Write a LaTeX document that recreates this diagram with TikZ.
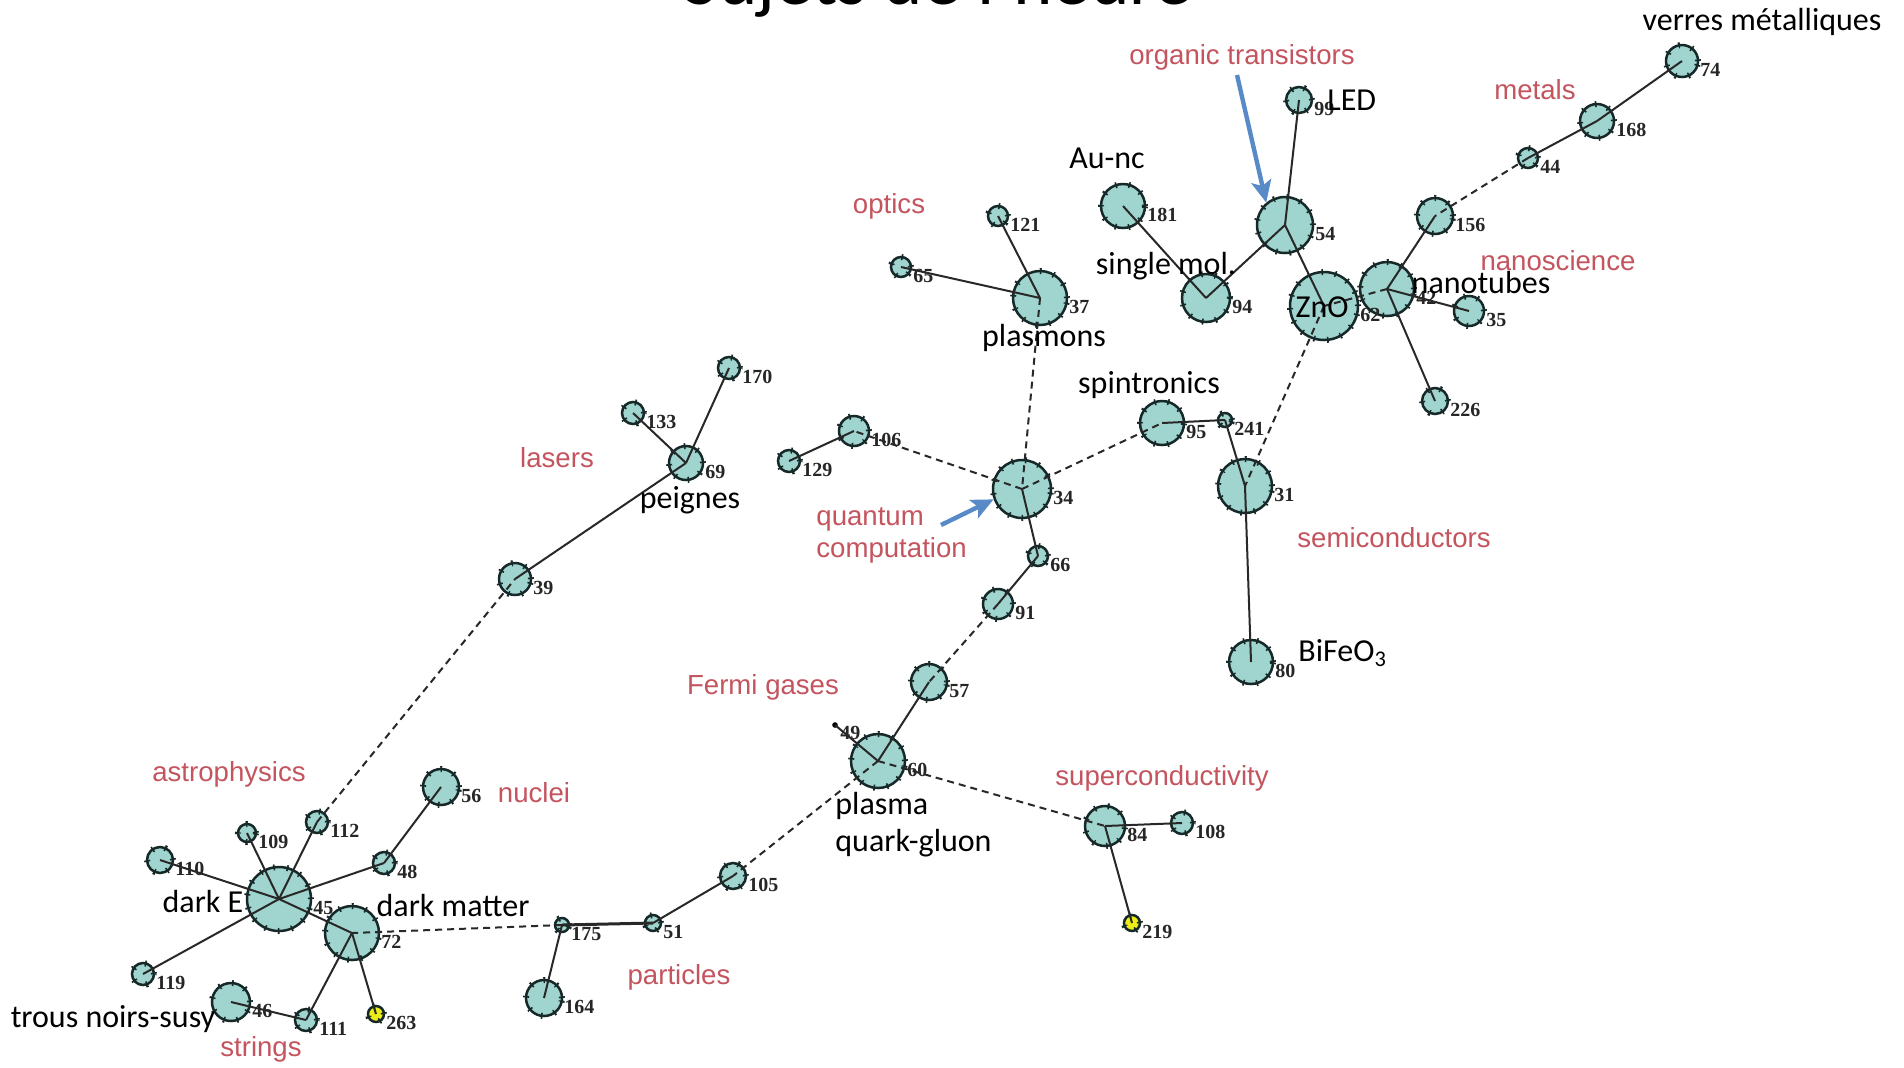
\documentclass[tikz,border=0pt]{standalone}
\usepackage{fontspec}
\setmainfont{Carlito}
\newfontfamily\catfont{Liberation Sans}
\newfontfamily\numfont{Liberation Serif}
\usetikzlibrary{arrows.meta}

\definecolor{tealc}{RGB}{160,212,206}
\definecolor{bordc}{RGB}{22,40,40}
\definecolor{yelc}{RGB}{236,236,24}
\definecolor{edgec}{RGB}{40,40,40}
\definecolor{catc}{RGB}{196,84,94}
\definecolor{arrc}{RGB}{88,138,200}

\tikzset{
  gn/.style={circle, draw=bordc, line width=1.25pt, fill=tealc, inner sep=0pt,
    postaction={draw=bordc, line width=3pt, dash pattern=on 0.8pt off 6pt}},
  yn/.style={gn, fill=yelc},
  num/.style={anchor=west, inner sep=0pt, font=\numfont\bfseries\fontsize{10pt}{11pt}\selectfont, text=black!85},
  cat/.style={inner sep=0pt, text=catc, font=\catfont\fontsize{13.8pt}{16pt}\selectfont},
  blk/.style={inner sep=0pt, text=black, font=\fontsize{16pt}{18.5pt}\selectfont},
  edge/.style={draw=edgec, line width=1pt},
  dedge/.style={edge, dash pattern=on 3.5pt off 2.5pt},
  blarrow/.style={draw=arrc, line width=2.2pt, -{Stealth[length=11pt, width=10pt, inset=2.5pt]}}
}

\begin{document}
\begin{tikzpicture}[x=0.5pt, y=-0.5pt]
\useasboundingbox (0,0) rectangle (1904,1067);
\fill[white] (0,0) rectangle (1904,1067);

% title, cut by the top edge
\begin{scope}
\clip (0,0) rectangle (1904,1067);
\node[anchor=base, inner sep=0pt, font=\fontsize{37.5pt}{40pt}\selectfont] (title) at (938,4) {Sujets de l’heure};
\end{scope}

% topic nodes: name / x / y / radius
\foreach \n/\x/\y/\r in {
  74/1682/61/16, 168/1597/121/17, 44/1528/158/10, 156/1435/216/18,
  42/1387/289/27, 35/1469/311/15, 226/1435/401/13, 62/1324/306/34,
  54/1285/225/28, 99/1299/100/13, 181/1123/206/22, 94/1206/298/24,
  37/1040/298/27, 121/998/216/10, 65/901/267/10, 34/1022/489/29,
  106/854/431/15, 129/789/461/11, 95/1162/423/22, 241/1225/420/7,
  31/1245/486/27, 80/1251/662/22, 66/1038/556/10, 91/998/604/15,
  57/929/682/18, 60/878/761/27, 84/1105/826/20, 108/1182/823/11,
  105/733/876/13, 51/653/923/8, 175/562/925/7, 164/544/998/18,
  72/352/933/27, 45/279/899/32, 48/384/863/11, 56/441/787/18,
  112/317/822/11, 109/247/833/9, 110/160/860/13, 119/143/974/11,
  46/231/1002/19, 111/306/1020/11, 39/515/579/16, 69/686/463/17,
  133/633/413/11, 170/729/368/11}
{
  \node[gn, minimum size=\r pt] (n\n) at (\x,\y) {};
  \node[num] (t\n) at (\x+\r+2,\y+9) {\n};
}
\foreach \n/\x/\y/\r in {219/1132/923/8, 263/376/1014/8}
{
  \node[yn, minimum size=\r pt] (n\n) at (\x,\y) {};
  \node[num] (t\n) at (\x+\r+2,\y+9) {\n};
}
\node[circle, fill=black, inner sep=0pt, minimum size=2.8pt] (n49) at (835,725) {};
\node[num] (t49) at (840,733) {49};

% links
\foreach \a/\b in {74/168, 168/44, 156/42, 42/35, 42/226, 62/54, 54/99, 54/94,
  94/181, 37/121, 37/65, 106/129, 95/241, 241/31, 31/80, 34/66, 66/91, 57/60,
  60/49, 84/108, 84/219, 105/51, 175/164, 72/45, 72/111, 72/263, 46/111,
  45/110, 45/109, 45/112, 45/48, 45/119, 48/56, 39/69, 69/133, 69/170}
  \draw[edge] (n\a.center) -- (n\b.center);
\draw[edge, line width=1.5pt] (n51.center) -- (n175.center);
\foreach \a/\b in {44/156, 42/62, 62/31, 37/34, 34/106, 34/95, 91/57, 60/84,
  60/105, 175/72, 112/39}
  \draw[dedge] (n\a.center) -- (n\b.center);

% field names
\node[cat] (c1) at (1242,57) {organic transistors};
\node[cat] (c2) at (1535,90) {metals};
\node[cat] (c3) at (889,206) {optics};
\node[cat] (c4) at (1558,261) {nanoscience};
\node[cat] (c5) at (557,458) {lasers};
\node[cat, anchor=north west, align=left] (c6) at (816,507) {quantum\\computation};
\node[cat] (c7) at (1394,538) {semiconductors};
\node[cat] (c8) at (763,687) {Fermi gases};
\node[cat] (c9) at (229,774) {astrophysics};
\node[cat] (c10) at (534,793) {nuclei};
\node[cat] (c11) at (1162,778) {superconductivity};
\node[cat] (c12) at (679,977) {particles};
\node[cat] (c13) at (261,1049) {strings};

% pointers
\coordinate (a1s) at (1237,75);
\coordinate (a2s) at (941,525);
\draw[blarrow] (a1s) -- (n54.130);
\draw[blarrow] (a2s) -- (n34.200);

% annotations
\node[blk] (b1) at (1762,22) {verres métalliques};
\node[blk, anchor=west] (b2) at (1327,100) {LED};
\node[blk] (b3) at (1107,158) {Au-nc};
\node[blk] (b4) at (1166,266) {single mol.};
\node[blk] (b5) at (1322,307) {ZnO};
\node[blk] (b6) at (1481,282) {nanotubes};
\node[blk] (b7) at (1044,338) {plasmons};
\node[blk] (b8) at (1149,385) {spintronics};
\node[blk] (b9) at (690,500) {peignes};
\node[blk, anchor=west] (b10) at (1298,653) {BiFeO\textsubscript{3}};
\node[blk, anchor=north west, align=left] (b11) at (835,792) {plasma\\quark-gluon};
\node[blk] (b12) at (203,901) {dark E};
\node[blk] (b13) at (453,905) {dark matter};
\node[blk] (b14) at (113,1019) {trous noirs-susy};
\end{tikzpicture}
\end{document}
